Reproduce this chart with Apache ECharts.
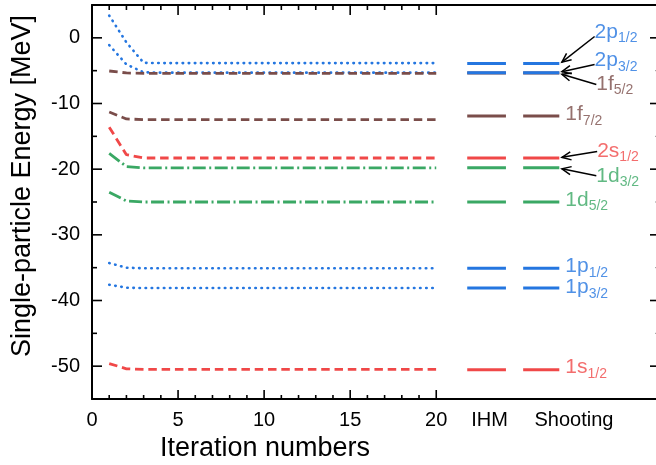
<!DOCTYPE html>
<html>
<head>
<meta charset="utf-8">
<script src="https://cdn.jsdelivr.net/npm/echarts@6/dist/echarts.min.js"></script>
<style>
  html, body { margin: 0; padding: 0; background: #fff; }
  #chart { width: 656px; height: 465px; }
</style>
</head>
<body>
<div id="chart"></div>
<script>
// iteration numbers
var iterations = [1, 2, 3, 4, 5, 6, 7, 8, 9, 10, 11, 12, 13, 14, 15, 16, 17, 18, 19, 20];

// single-particle energies (MeV) per iteration
var e2p12 = [3.4, -0.7, -3.8, -3.85, -3.85, -3.85, -3.85, -3.85, -3.85, -3.85, -3.85, -3.85, -3.85, -3.85, -3.85, -3.85, -3.85, -3.85, -3.85, -3.85];
var e2p32 = [-1.1, -4.05, -5.25, -5.3, -5.3, -5.3, -5.3, -5.3, -5.3, -5.3, -5.3, -5.3, -5.3, -5.3, -5.3, -5.3, -5.3, -5.3, -5.3, -5.3];
var e1f52 = [-5.05, -5.35, -5.4, -5.4, -5.4, -5.4, -5.4, -5.4, -5.4, -5.4, -5.4, -5.4, -5.4, -5.4, -5.4, -5.4, -5.4, -5.4, -5.4, -5.4];
var e1f72 = [-11.3, -12.35, -12.45, -12.45, -12.45, -12.45, -12.45, -12.45, -12.45, -12.45, -12.45, -12.45, -12.45, -12.45, -12.45, -12.45, -12.45, -12.45, -12.45, -12.45];
var e2s12 = [-13.6, -17.8, -18.3, -18.3, -18.3, -18.3, -18.3, -18.3, -18.3, -18.3, -18.3, -18.3, -18.3, -18.3, -18.3, -18.3, -18.3, -18.3, -18.3, -18.3];
var e1d32 = [-17.6, -19.6, -19.8, -19.8, -19.8, -19.8, -19.8, -19.8, -19.8, -19.8, -19.8, -19.8, -19.8, -19.8, -19.8, -19.8, -19.8, -19.8, -19.8, -19.8];
var e1d52 = [-23.5, -24.85, -25.0, -25.0, -25.0, -25.0, -25.0, -25.0, -25.0, -25.0, -25.0, -25.0, -25.0, -25.0, -25.0, -25.0, -25.0, -25.0, -25.0, -25.0];
var e1p12 = [-34.3, -35.0, -35.1, -35.1, -35.1, -35.1, -35.1, -35.1, -35.1, -35.1, -35.1, -35.1, -35.1, -35.1, -35.1, -35.1, -35.1, -35.1, -35.1, -35.1];
var e1p32 = [-37.6, -38.05, -38.1, -38.1, -38.1, -38.1, -38.1, -38.1, -38.1, -38.1, -38.1, -38.1, -38.1, -38.1, -38.1, -38.1, -38.1, -38.1, -38.1, -38.1];
var e1s12 = [-49.6, -50.4, -50.5, -50.5, -50.5, -50.5, -50.5, -50.5, -50.5, -50.5, -50.5, -50.5, -50.5, -50.5, -50.5, -50.5, -50.5, -50.5, -50.5, -50.5];

// level names and final values from the two methods
var levelNames = ['2p1/2', '2p3/2', '1f5/2', '1f7/2', '2s1/2', '1d3/2', '1d5/2', '1p1/2', '1p3/2', '1s1/2'];
var ihmValues = [-3.9, -5.3, -5.35, -11.9, -18.3, -19.8, -25.0, -35.1, -38.1, -50.55];
var shootingValues = [-3.9, -5.3, -5.35, -11.9, -18.3, -19.8, -25.0, -35.1, -38.1, -50.55];

// axis ticks
var xTicks = [5, 10, 15, 20];
var xMinorTicks = [1, 2, 3, 4, 6, 7, 8, 9, 11, 12, 13, 14, 16, 17, 18, 19];
var xLabels = [0, 5, 10, 15, 20, 23.1, 28];
var yTicks = [-50, -40, -30, -20, -10, 0];
var yMinorTicks = [-45, -35, -25, -15, -5];

var X_MIN = 0, X_MAX = 33, Y_MIN = -55, Y_MAX = 5;

var BLUE = '#2476e0', RED = '#f04848', GREEN = '#3aa864', BROWN = '#7a4d4a';

var iterSets = [
  { name: '2p1/2', data: e2p12, color: BLUE, dash: 'dot' },
  { name: '2p3/2', data: e2p32, color: BLUE, dash: 'dot' },
  { name: '1f5/2', data: e1f52, color: BROWN, dash: 'dash' },
  { name: '1f7/2', data: e1f72, color: BROWN, dash: 'dash' },
  { name: '2s1/2', data: e2s12, color: RED, dash: 'dash' },
  { name: '1d3/2', data: e1d32, color: GREEN, dash: 'dashdot' },
  { name: '1d5/2', data: e1d52, color: GREEN, dash: 'dashdot' },
  { name: '1p1/2', data: e1p12, color: BLUE, dash: 'dot' },
  { name: '1p3/2', data: e1p32, color: BLUE, dash: 'dot' },
  { name: '1s1/2', data: e1s12, color: RED, dash: 'dash' }
];
var levelColors = [BLUE, BLUE, BROWN, BROWN, RED, GREEN, GREEN, BLUE, BLUE, RED];

// where the IHM / Shooting bars sit on the x axis
var ihmSpan = [21.8, 24.05];
var shootSpan = [25.05, 27.15];

// label anchors [x, y] in data units, and arrows [x1, y1, x2, y2]
var labelAnchors = [
  [29.2, 0.9], [29.2, -3.4], [29.3, -7.0], [27.5, -11.7], [29.35, -17.2],
  [29.3, -21.0], [27.5, -24.7], [27.5, -34.8], [27.5, -38.0], [27.5, -50.2]
];
var arrows = [
  [29.2, 0.2, 27.3, -3.7],
  [29.2, -4.05, 27.3, -5.15],
  [29.3, -7.1, 27.3, -5.55],
  [29.35, -17.3, 27.3, -18.2],
  [29.3, -21.0, 27.3, -19.95]
];

function dashStyle(kind) {
  if (kind === 'dot') return { type: [0.5, 5.6], cap: 'round', width: 2.6 };
  if (kind === 'dash') return { type: [8.5, 4.8], cap: 'butt', width: 2.8 };
  return { type: [13, 3.5, 2, 3.5], cap: 'butt', width: 2.8 };
}

var series = [];
iterSets.forEach(function (s) {
  var ls = dashStyle(s.dash);
  ls.color = s.color;
  series.push({
    type: 'line', name: s.name, showSymbol: false, silent: true,
    lineStyle: ls,
    data: iterations.map(function (it, i) { return [it, s.data[i]]; })
  });
});
// draw brown bars first so blue sits on top
var barOrder = [2, 3, 0, 1, 4, 5, 6, 7, 8, 9];
barOrder.forEach(function (i) {
  [[ihmSpan, ihmValues], [shootSpan, shootingValues]].forEach(function (p) {
    series.push({
      type: 'line', showSymbol: false, silent: true,
      lineStyle: { color: levelColors[i], width: 3 },
      data: [[p[0][0], p[1][i]], [p[0][1], p[1][i]]]
    });
  });
});

// arrows pointing from the labels to the bars
series.push({
  type: 'custom', silent: true, clip: false,
  encode: { x: [0, 2], y: [1, 3] },
  data: arrows,
  renderItem: function (params, api) {
    var a = api.coord([api.value(0), api.value(1)]);
    var b = api.coord([api.value(2), api.value(3)]);
    var ang = Math.atan2(a[1] - b[1], a[0] - b[0]);
    var L = 10, w = 0.42;
    var h1 = [b[0] + L * Math.cos(ang + w), b[1] + L * Math.sin(ang + w)];
    var h2 = [b[0] + L * Math.cos(ang - w), b[1] + L * Math.sin(ang - w)];
    return {
      type: 'group',
      children: [
        { type: 'line', shape: { x1: a[0], y1: a[1], x2: b[0], y2: b[1] }, style: { stroke: '#000', lineWidth: 1.5 } },
        { type: 'polyline', shape: { points: [h1, b, h2] }, style: { stroke: '#000', lineWidth: 1.5, fill: null } }
      ]
    };
  }
});

// frame ticks (inward) on all four sides
series.push({
  type: 'custom', silent: true, clip: false, z: 5,
  encode: { x: 0, y: 1 },
  data: xTicks.map(function (v) { return [v, Y_MIN, 1]; })
    .concat(xMinorTicks.map(function (v) { return [v, Y_MIN, 0]; })),
  renderItem: function (params, api) {
    var v = api.value(0), major = api.value(2) === 1;
    var b = api.coord([v, Y_MIN]), t = api.coord([v, Y_MAX]);
    var lb = major ? 9 : 4, lt = major ? 10 : 5;
    var st = { stroke: '#000', lineWidth: 1.6 };
    return {
      type: 'group',
      children: [
        { type: 'line', shape: { x1: b[0], y1: b[1], x2: b[0], y2: b[1] - lb }, style: st },
        { type: 'line', shape: { x1: t[0], y1: t[1], x2: t[0], y2: t[1] + lt }, style: st }
      ]
    };
  }
});
series.push({
  type: 'custom', silent: true, clip: false, z: 5,
  encode: { x: 0, y: 1 },
  data: yTicks.map(function (v) { return [X_MIN, v, 1]; })
    .concat(yMinorTicks.map(function (v) { return [X_MIN, v, 0]; })),
  renderItem: function (params, api) {
    var v = api.value(1), major = api.value(2) === 1;
    var l = api.coord([X_MIN, v]), r = api.coord([X_MAX, v]);
    var len = major ? 10 : 5;
    return {
      type: 'group',
      children: [
        { type: 'line', shape: { x1: l[0], y1: l[1], x2: l[0] + len, y2: l[1] }, style: { stroke: '#000', lineWidth: 1.6 } },
        { type: 'line', shape: { x1: r[0], y1: r[1], x2: r[0] - len, y2: r[1] },
          style: { stroke: major ? '#000' : '#999', lineWidth: major ? 1.6 : 1 } }
      ]
    };
  }
});

function labelData() {
  return levelNames.map(function (n, i) {
    return {
      name: n,
      value: labelAnchors[i],
      label: {
        rich: {
          m: { fontSize: 21, color: levelColors[i], fontFamily: 'Liberation Sans' },
          s: { fontSize: 14, color: levelColors[i], fontFamily: 'Liberation Sans', padding: [13, 0, 0, 0] }
        }
      }
    };
  });
}

series.push({
  type: 'scatter', silent: true, symbolSize: 0,
  data: labelData(),
  label: {
    show: true, position: 'right', distance: 0,
    formatter: function (p) {
      var n = p.data.name;
      return '{m|' + n.slice(0, 2) + '}{s|' + n.slice(2) + '}';
    },
    rich: {}
  }
});

var axisFont = { color: '#000', fontSize: 20, fontFamily: 'Liberation Sans' };
var xLabelMap = { 0: '0', 5: '5', 10: '10', 15: '15', 20: '20', 23.1: 'IHM', 28: 'Shooting' };
var frameLine = { show: true, onZero: false, lineStyle: { color: '#000', width: 2 } };

var option = {
  animation: false,
  grid: { left: 92, right: -4, top: 5, bottom: 66, containLabel: false, outerBoundsMode: 'none' },
  xAxis: [
    {
      type: 'value', position: 'bottom', min: X_MIN, max: X_MAX,
      name: 'Iteration numbers', nameLocation: 'middle', nameGap: 35,
      nameTextStyle: { color: '#000', fontSize: 27, fontFamily: 'Liberation Sans', padding: [0, 222, 0, 0] },
      axisLine: frameLine,
      axisTick: { show: false },
      axisLabel: Object.assign({ margin: 11, customValues: xLabels,
        formatter: function (v) { return xLabelMap[v] || ''; } }, axisFont),
      splitLine: { show: false }
    },
    {
      type: 'value', position: 'top', min: X_MIN, max: X_MAX,
      axisLine: frameLine, axisTick: { show: false }, axisLabel: { show: false }, splitLine: { show: false }
    }
  ],
  yAxis: [
    {
      type: 'value', position: 'left', min: Y_MIN, max: Y_MAX,
      name: 'Single-particle Energy [MeV]', nameLocation: 'middle', nameGap: 56, nameRotate: 90,
      nameTextStyle: { color: '#000', fontSize: 27, fontFamily: 'Liberation Sans', padding: [0, 0, 0, 32] },
      axisLine: frameLine,
      axisTick: { show: false },
      axisLabel: Object.assign({ margin: 12, customValues: yTicks }, axisFont),
      splitLine: { show: false }
    },
    {
      type: 'value', position: 'right', min: Y_MIN, max: Y_MAX,
      axisLine: frameLine, axisTick: { show: false }, axisLabel: { show: false }, splitLine: { show: false }
    }
  ],
  series: series
};

var chart = echarts.init(document.getElementById('chart'), null, { renderer: 'canvas' });
chart.setOption(option);
</script>
</body>
</html>
